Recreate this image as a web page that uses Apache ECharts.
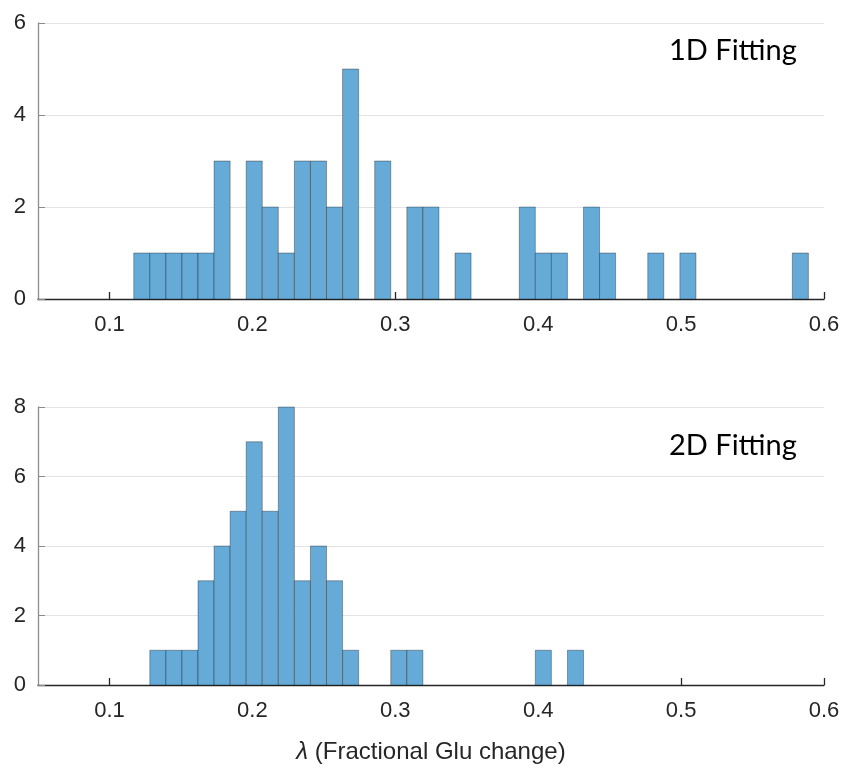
<!DOCTYPE html>
<html>
<head>
<meta charset="utf-8">
<script src="https://cdn.jsdelivr.net/npm/echarts@6/dist/echarts.min.js"></script>
<style>
  html, body { margin: 0; padding: 0; background: #ffffff; }
  #chart { width: 859px; height: 771px; }
</style>
</head>
<body>
<div id="chart"></div>
<script>
// ---- data ----
// histogram bins (shared by both panels): left edge of first bin and bin width
const binStart = 0.117;
const binWidth = 0.01124;
// counts per bin, 1D fitting (bins 0..41)
const counts1D = [1, 1, 1, 1, 1, 3, 0, 3, 2, 1, 3, 3, 2, 5, 0, 3, 0, 2, 2, 0,
                  1, 0, 0, 0, 2, 1, 1, 0, 2, 1, 0, 0, 1, 0, 1, 0, 0, 0, 0, 0,
                  0, 1];
// counts per bin, 2D fitting (bins 0..27)
const counts2D = [0, 1, 1, 1, 3, 4, 5, 7, 5, 8, 3, 4, 3, 1, 0, 0, 1, 1, 0, 0,
                  0, 0, 0, 0, 0, 1, 0, 1];
const xTicks = [0.1, 0.2, 0.3, 0.4, 0.5, 0.6];
const yTicks1D = [0, 2, 4, 6];
const yTicks2D = [0, 2, 4, 6, 8];
const label1D = '1D Fitting';
const label2D = '2D Fitting';

function toBars(counts) {
  const out = [];
  counts.forEach((c, k) => {
    if (c > 0) out.push([binStart + k * binWidth, binStart + (k + 1) * binWidth, c]);
  });
  return out;
}

const FILL = 'rgb(102,170,215)';
const EDGE = 'rgba(0,0,0,0.32)';
const TXT = '#262626';

function renderBar(params, api) {
  const p0 = api.coord([api.value(0), 0]);
  const p1 = api.coord([api.value(1), api.value(2)]);
  return {
    type: 'rect',
    shape: { x: p0[0], y: p1[1], width: p1[0] - p0[0], height: p0[1] - p1[1] },
    style: { fill: FILL, stroke: EDGE, lineWidth: 1 }
  };
}

function xAxis(idx, withName) {
  const a = {
    type: 'value', gridIndex: idx, min: 0.05, max: 0.6,
    axisLine: { show: true, lineStyle: { color: TXT, width: 1.3 } },
    axisTick: { show: true, inside: true, length: 7, customValues: xTicks, lineStyle: { color: TXT, width: 1.3 } },
    axisLabel: { customValues: xTicks, color: TXT, fontSize: 22, fontFamily: 'Liberation Sans', margin: 15,
                 formatter: v => (Math.round(v * 10) / 10).toFixed(1) },
    splitLine: { show: false }
  };
  if (withName) {
    a.name = '{i|λ} (Fractional Glu change)';
    a.nameLocation = 'middle';
    a.nameGap = 55;
    a.nameTextStyle = {
      color: TXT, fontSize: 24, fontFamily: 'Liberation Sans',
      rich: { i: { fontStyle: 'italic', fontSize: 24, fontFamily: 'Liberation Sans', color: TXT } }
    };
  }
  return a;
}

function yAxis(idx, ticks) {
  return {
    type: 'value', gridIndex: idx, min: ticks[0], max: ticks[ticks.length - 1], interval: ticks[1] - ticks[0],
    axisLine: { show: true, lineStyle: { color: '#8c8c8c', width: 1.3 } },
    axisTick: { show: true, inside: true, length: 7, lineStyle: { color: '#8c8c8c' } },
    axisLabel: { color: TXT, fontSize: 22, fontFamily: 'Liberation Sans', margin: 12 },
    splitLine: { show: true, lineStyle: { color: '#e3e3e3', width: 1 } }
  };
}

const chart = echarts.init(document.getElementById('chart'), null, { renderer: 'canvas' });
chart.setOption({
  animation: false,
  backgroundColor: '#ffffff',
  grid: [
    { left: 38, right: 35, top: 23, height: 276 },
    { left: 38, right: 35, top: 407, height: 278 }
  ],
  xAxis: [xAxis(0, false), xAxis(1, true)],
  yAxis: [yAxis(0, yTicks1D), yAxis(1, yTicks2D)],
  series: [
    { type: 'custom', xAxisIndex: 0, yAxisIndex: 0, renderItem: renderBar, data: toBars(counts1D), encode: { x: [0, 1], y: 2 } },
    { type: 'custom', xAxisIndex: 1, yAxisIndex: 1, renderItem: renderBar, data: toBars(counts2D), encode: { x: [0, 1], y: 2 } }
  ],
  graphic: [
    { type: 'text', left: 669, top: 36, style: { text: label1D, font: '29px Lato', fill: '#000000' } },
    { type: 'text', left: 669, top: 431, style: { text: label2D, font: '29px Lato', fill: '#000000' } }
  ]
});
</script>
</body>
</html>
